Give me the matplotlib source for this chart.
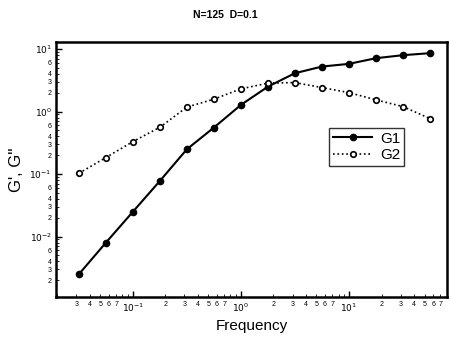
import matplotlib
matplotlib.use("Agg")
import matplotlib.pyplot as plt
from matplotlib.ticker import LogLocator, FuncFormatter
import numpy as np

plt.rcParams['font.family'] = ['Liberation Sans', 'DejaVu Sans']

# data
freq = [0.0316, 0.0562, 0.1, 0.178, 0.316, 0.562, 1.0, 1.78, 3.16, 5.62, 10.0, 17.8, 31.6, 56.2]
g1 = [0.0025, 0.008, 0.025, 0.078, 0.25, 0.555, 1.28, 2.51, 4.11, 5.25, 5.8, 7.15, 7.98, 8.6]
g2 = [0.103, 0.184, 0.331, 0.562, 1.18, 1.58, 2.31, 2.85, 2.91, 2.42, 2.01, 1.54, 1.2, 0.773]

fig = plt.figure(figsize=(4.5, 3.41), dpi=100)
ax = fig.add_axes([0.1244, 0.129, 0.869, 0.748])

ax.plot(freq, g1, color="black", lw=1.5, marker="o", ms=4.5, mfc="black", label="G1")
ax.plot(freq, g2, color="black", lw=1.2, ls=":", marker="o", ms=4, mfc="white", mew=1.2, label="G2")

ax.set_xscale("log")
ax.set_yscale("log")
ax.set_xlim(0.0194, 80.8)
ax.set_ylim(0.00108, 13.0)

def make_minor(keep, vmin):
    def f(v, pos):
        if v < vmin:
            return ""
        d = int(round(v / 10 ** np.floor(np.log10(v) + 1e-9)))
        return str(d) if d in keep else ""
    return f

def major_lab(v, pos):
    return r"$10^{%d}$" % int(round(np.log10(v)))

for axis in (ax.xaxis, ax.yaxis):
    axis.set_major_locator(LogLocator(base=10))
    axis.set_minor_locator(LogLocator(base=10, subs=np.arange(2, 10)))
    axis.set_major_formatter(FuncFormatter(major_lab))
ax.xaxis.set_minor_formatter(FuncFormatter(make_minor({2, 3, 4, 5, 6, 7}, 0.025)))
ax.yaxis.set_minor_formatter(FuncFormatter(make_minor({2, 3, 4, 6}, 0.0015)))

ax.tick_params(which="major", direction="in", length=4, width=1, labelsize=6.5, pad=3)
ax.tick_params(which="minor", direction="in", length=2, width=0.6, labelsize=5, pad=3)
for sp in ax.spines.values():
    sp.set_linewidth(1.8)

ax.set_xlabel("Frequency", fontsize=11)
ax.set_ylabel("G', G''", fontsize=12, labelpad=4)
fig.text(0.5, 0.955, "N=125  D=0.1", fontsize=7.5, fontweight="bold", ha="center", va="center")

leg = ax.legend(loc="upper left", bbox_to_anchor=(0.698, 0.663), fontsize=11,
                frameon=True, fancybox=False, edgecolor="black", handlelength=2.6,
                borderpad=0.25, labelspacing=0.15, handletextpad=0.5, borderaxespad=0)
leg.get_frame().set_linewidth(1.0)

plt.savefig("out.png", dpi=100)
